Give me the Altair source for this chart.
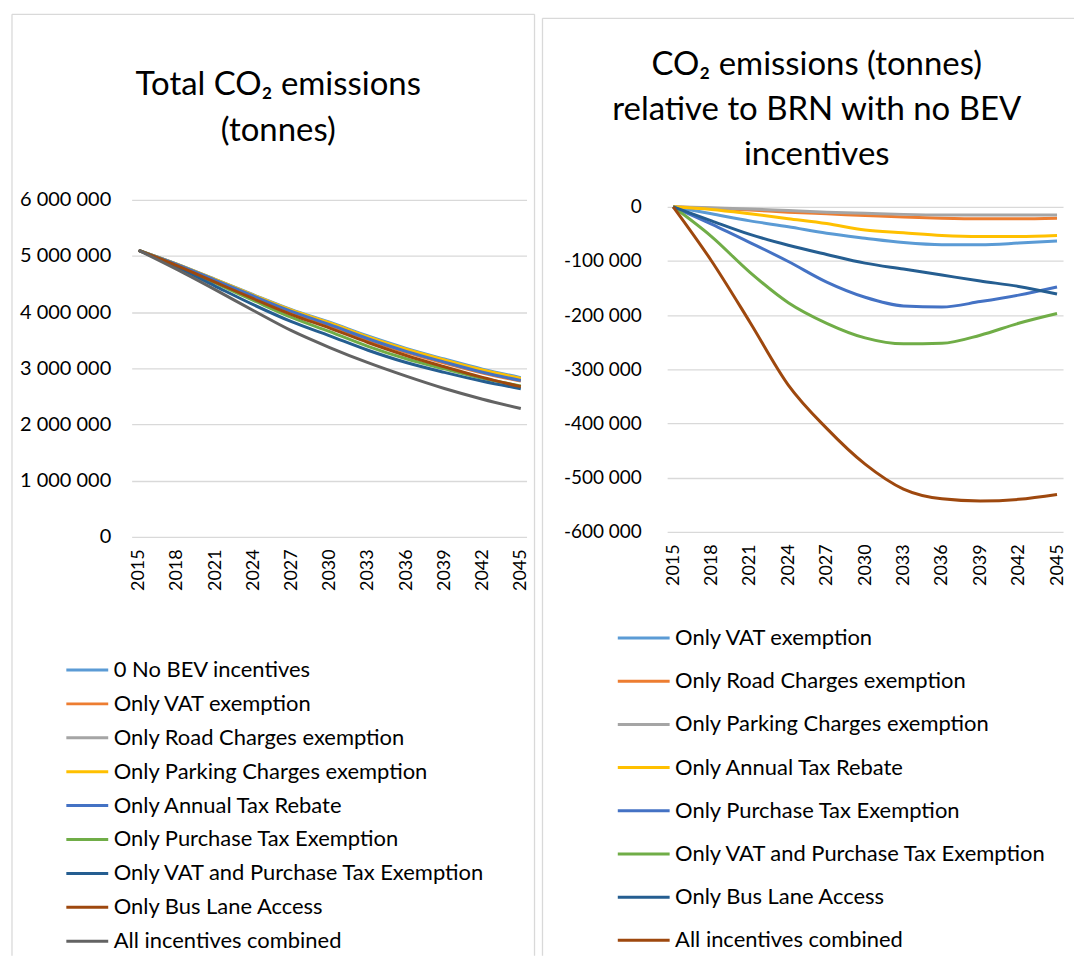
import altair as alt
import pandas as pd

FONT = "Lato"

YEARS = [2015, 2018, 2021, 2024, 2027, 2030, 2033, 2036, 2039, 2042, 2045]

# ---------------- left panel: total emissions (tonnes) ----------------
LEFT_NAMES = [
    "0 No BEV incentives",
    "Only VAT exemption",
    "Only Road Charges exemption",
    "Only Parking Charges exemption",
    "Only Annual Tax Rebate",
    "Only Purchase Tax Exemption",
    "Only VAT and Purchase Tax Exemption",
    "Only Bus Lane Access",
    "All incentives combined",
]
LEFT_COLORS = ["#5B9BD5", "#ED7D31", "#A5A5A5", "#FFC000", "#4472C4",
               "#70AD47", "#255E91", "#9E480E", "#636363"]

L_NO_BEV = [5100000, 4855000, 4585000, 4310000, 4045000, 3820000, 3575000, 3355000, 3165000, 2985000, 2835000]
L_VAT = [5100000, 4842000, 4559000, 4273000, 3996000, 3762000, 3509000, 3285000, 3095000, 2918000, 2772000]
L_ROAD = [5100000, 4852000, 4579000, 4300000, 4032000, 3804000, 3556000, 3334000, 3143000, 2963000, 2814000]
L_PARKING = [5100000, 4853000, 4581000, 4303000, 4035000, 3808000, 3561000, 3340000, 3150000, 2970000, 2820000]
L_ANNUAL = [5100000, 4850000, 4572000, 4288000, 4014000, 3777000, 3527000, 3302000, 3110000, 2930000, 2782000]
L_PURCHASE = [5100000, 4823000, 4519000, 4209000, 3906000, 3653000, 3392000, 3170000, 2990000, 2822000, 2687000]
L_VAT_PURCHASE = [5100000, 4800000, 4464000, 4133000, 3830000, 3578000, 3322000, 3103000, 2928000, 2770000, 2638000]
L_BUS = [5100000, 4829000, 4534000, 4239000, 3957000, 3716000, 3460000, 3229000, 3028000, 2838000, 2674000]
L_ALL = [5100000, 4760000, 4400000, 4030000, 3670000, 3370000, 3100000, 2860000, 2640000, 2450000, 2285000]
LEFT_SERIES = [L_NO_BEV, L_VAT, L_ROAD, L_PARKING, L_ANNUAL, L_PURCHASE, L_VAT_PURCHASE, L_BUS, L_ALL]
LEFT_TICKS = [0, 1000000, 2000000, 3000000, 4000000, 5000000, 6000000]
LEFT_TITLE = ["Total CO\u2082 emissions", "(tonnes)"]

# ---------------- right panel: relative to BRN (tonnes) ----------------
RIGHT_NAMES = [
    "Only VAT exemption",
    "Only Road Charges exemption",
    "Only Parking Charges exemption",
    "Only Annual Tax Rebate",
    "Only Purchase Tax Exemption",
    "Only VAT and Purchase Tax Exemption",
    "Only Bus Lane Access",
    "All incentives combined",
]
RIGHT_COLORS = ["#5B9BD5", "#ED7D31", "#A5A5A5", "#FFC000", "#4472C4",
                "#70AD47", "#255E91", "#9E480E"]

R_VAT = [0, -13000, -26000, -37000, -49000, -58000, -66000, -70000, -70000, -67000, -63000]
R_ROAD = [0, -3000, -6000, -10000, -13000, -16000, -19000, -21000, -22000, -22000, -21000]
R_PARKING = [0, -2000, -4000, -7000, -10000, -12000, -14000, -15000, -15000, -15000, -15000]
R_ANNUAL = [0, -5000, -13000, -22000, -31000, -43000, -48000, -53000, -55000, -55000, -53000]
R_PURCHASE = [0, -32000, -66000, -101000, -139000, -167000, -183000, -185000, -175000, -163000, -148000]
R_VAT_PURCHASE = [0, -55000, -121000, -177000, -215000, -242000, -253000, -252000, -237000, -215000, -197000]
R_BUS = [0, -26000, -51000, -71000, -88000, -104000, -115000, -126000, -137000, -147000, -161000]
R_ALL = [0, -100000, -213000, -329000, -409000, -475000, -521000, -539000, -543000, -540000, -531000]
RIGHT_SERIES = [R_VAT, R_ROAD, R_PARKING, R_ANNUAL, R_PURCHASE, R_VAT_PURCHASE, R_BUS, R_ALL]
RIGHT_TICKS = [0, -100000, -200000, -300000, -400000, -500000, -600000]
RIGHT_TITLE = ["CO\u2082 emissions (tonnes)", "relative to BRN with no BEV", "incentives"]


def long_table(names, series):
    rows = []
    for order, (name, vals) in enumerate(zip(names, series)):
        for yr, v in zip(YEARS, vals):
            rows.append({"series": name, "order": order, "year": yr, "value": v})
    return pd.DataFrame(rows)


left_df = long_table(LEFT_NAMES, LEFT_SERIES)
right_df = long_table(RIGHT_NAMES, RIGHT_SERIES)

ONE = alt.Data(values=[{"k": 1}])
BORDER = "#D9D9D9"


def border(x1, y1, x2, y2):
    return alt.Chart(ONE).mark_rule(color=BORDER, strokeWidth=1.3).encode(
        x=alt.value(x1), y=alt.value(y1), x2=alt.value(x2), y2=alt.value(y2)
    )


def title_line(text, x, y):
    return alt.Chart(ONE).mark_text(font=FONT, fontSize=33, color="#000000").encode(
        x=alt.value(x), y=alt.value(y), text=alt.value(text)
    )


def x_axis():
    return alt.Axis(values=YEARS, format="d", labelAngle=270, grid=False, ticks=False,
                    domain=False, labelPadding=12, title=None, labelFontSize=18,
                    labelFont=FONT, labelColor="#000000")


def legend(x, y, sym, row_pad):
    return alt.Legend(orient="none", legendX=x, legendY=y, title=None, symbolType="stroke",
                      symbolSize=sym * sym, symbolStrokeWidth=3, labelFontSize=22,
                      labelFont=FONT, labelColor="#000000", rowPadding=row_pad,
                      labelOffset=4, padding=0, direction="vertical", labelLimit=0)


# ---- left ----
LW, LH = 396, 338
left_lines = alt.Chart(left_df).mark_line(strokeWidth=3, interpolate="monotone").encode(
    x=alt.X("year:Q", scale=alt.Scale(domain=[2014.45, 2045.45], nice=False, zero=False), axis=x_axis()),
    y=alt.Y("value:Q", scale=alt.Scale(domain=[0, 6000000], nice=False),
            axis=alt.Axis(values=LEFT_TICKS, format=",d", grid=True, ticks=False, domain=False,
                          labelPadding=21, title=None, labelFontSize=20, labelFont=FONT,
                          labelColor="#000000", gridColor=BORDER, gridWidth=1.3)),
    color=alt.Color("series:N", scale=alt.Scale(domain=LEFT_NAMES, range=LEFT_COLORS),
                    legend=legend(-67, 449, 42, 0)),
    detail="order:O",
)
left = alt.layer(
    border(-120, -186, 404, -186),
    border(-120, -186, -120, 758),
    border(404, -186, 404, 758),
    title_line(LEFT_TITLE[0], 147, -115),
    title_line(LEFT_TITLE[1], 147, -69),
    left_lines,
).properties(width=LW, height=LH)

# ---- right ----
RW, RH = 397, 333
right_lines = alt.Chart(right_df).mark_line(strokeWidth=3, interpolate="monotone").encode(
    x=alt.X("year:Q", scale=alt.Scale(domain=[2014.53, 2045.47], nice=False, zero=False), axis=x_axis()),
    y=alt.Y("value:Q", scale=alt.Scale(domain=[-600000, 12900], nice=False, zero=False),
            axis=alt.Axis(values=RIGHT_TICKS, format=",d", grid=True, ticks=False, domain=False,
                          labelPadding=26, title=None, labelFontSize=19, labelFont=FONT,
                          labelColor="#000000", gridColor=BORDER, gridWidth=1.3)),
    color=alt.Color("series:N", scale=alt.Scale(domain=RIGHT_NAMES, range=RIGHT_COLORS),
                    legend=legend(-51, 412, 52, 4.3)),
    detail="order:O",
)
right = alt.layer(
    border(-125, -182, 408, -182),
    border(-125, -182, -125, 758),
    title_line(RIGHT_TITLE[0], 150, -135),
    title_line(RIGHT_TITLE[1], 150, -90),
    title_line(RIGHT_TITLE[2], 150, -45),
    right_lines,
).properties(width=RW, height=RH)

chart = (
    alt.hconcat(left, right, spacing=141, bounds="flush")
    .resolve_scale(color="independent", x="independent", y="independent")
    .properties(padding={"left": 3, "top": 4, "right": 0, "bottom": 0})
    .configure(locale={"number": {"decimal": ".", "thousands": " ", "grouping": [3],
                                  "currency": ["", ""], "minus": "-"}})
    .configure_view(stroke=None)
)

chart.save("out.html", embed_options={"renderer": "svg", "actions": False})
